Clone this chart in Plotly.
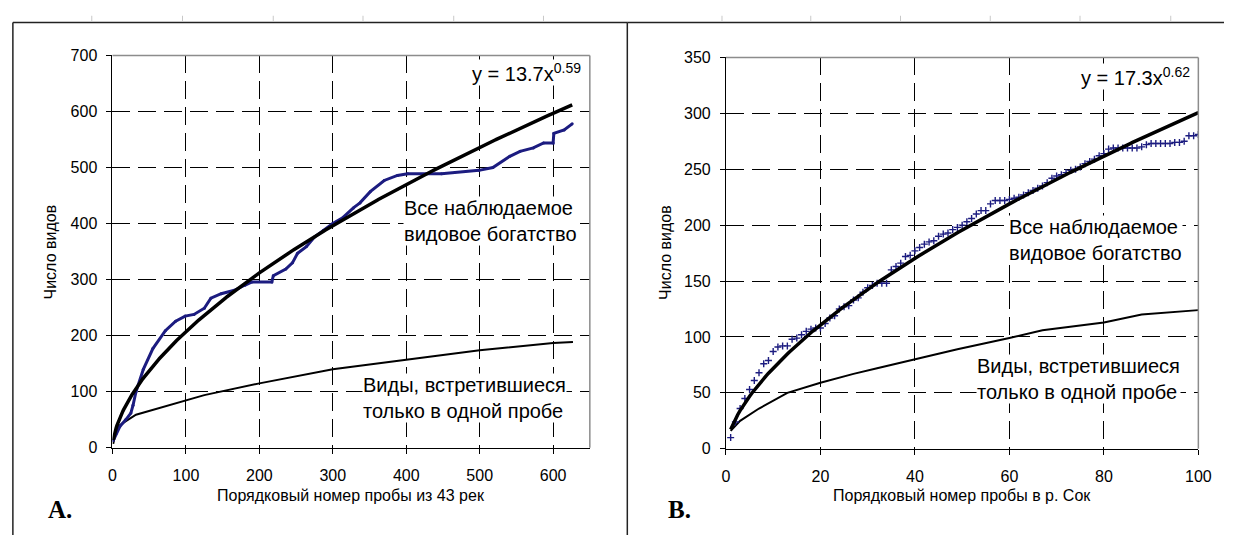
import numpy as np
import plotly.graph_objects as go

# ---------------- Panel A: 43 rivers ----------------
a_obs_x = [1, 5, 10, 18, 25, 28, 32, 42, 55, 72, 86, 99, 111, 125, 134, 148, 166, 180, 190,
           217, 219, 236, 245, 252, 264, 275, 287, 300, 314, 328, 337, 351, 370, 388, 402,
           448, 499, 518, 541, 555, 573, 587, 600, 601, 615, 626]
a_obs_y = [13, 25, 38, 50, 62, 76, 100, 140, 177, 209, 226, 235, 238, 249, 267, 275, 281, 290, 296,
           296, 307, 319, 330, 347, 359, 376, 388, 400, 411, 428, 437, 457, 477, 486, 489,
           489, 495, 500, 520, 529, 535, 544, 544, 561, 567, 578]

a_single_x = [1, 5, 9, 14, 32, 55, 79, 100, 125, 200, 300, 400, 500, 600, 627]
a_single_y = [7, 30, 39, 44, 59, 68, 77, 85, 94, 115, 140, 157, 174, 187, 189]

a_fit_coef, a_fit_pow = 13.7, 0.59
a_fit_end = 626

# ---------------- Panel B: river Sok ----------------
b_obs_x = list(range(1, 101))
b_obs_y = [10, 24, 36, 45, 53, 61, 68, 76, 79, 87,
           91, 92, 92, 98, 99, 102, 105, 107, 108, 108,
           112, 117, 119, 125, 127, 128, 133, 135, 140, 144,
           146, 148, 148, 148, 160, 163, 166, 172, 173, 177,
           180, 183, 185, 186, 190, 192, 193, 196, 198, 200,
           203, 206, 210, 213, 213, 219, 222, 222, 222, 223,
           224, 225, 227, 229, 231, 233, 235, 238, 242, 244,
           245, 247, 249, 250, 252, 255, 257, 259, 262, 264,
           268, 269, 269, 269, 269, 269, 269, 270, 272, 273,
           273, 273, 273, 273, 274, 274, 275, 280, 280, 281]

b_single_x = [1, 3, 7, 13, 20, 27, 32, 40, 49, 60, 67, 80, 88, 100]
b_single_y = [16, 25, 36, 50, 59, 67, 72, 80, 89, 99, 106, 113, 120, 124]

b_fit_coef, b_fit_pow = 17.3, 0.62
b_fit_end = 100

# axis ticks
a_xticks = [0, 100, 200, 300, 400, 500, 600]
a_yticks = [0, 100, 200, 300, 400, 500, 600, 700]
b_xticks = [0, 20, 40, 60, 80, 100]
b_yticks = [0, 50, 100, 150, 200, 250, 300, 350]

# power-law trend lines from the stated equations
a_fit_x = np.arange(1, a_fit_end + 1)
a_fit_y = a_fit_coef * a_fit_x ** a_fit_pow
b_fit_x = np.linspace(1, b_fit_end, 200)
b_fit_y = b_fit_coef * b_fit_x ** b_fit_pow

W, H = 1237, 544
NAVY = "#1c1c80"
FONT = "Liberation Sans, Arial, sans-serif"

fig = go.Figure()

# panel A traces
fig.add_trace(go.Scatter(x=a_single_x, y=a_single_y, mode="lines",
                         line=dict(color="black", width=2), xaxis="x", yaxis="y"))
fig.add_trace(go.Scatter(x=a_obs_x, y=a_obs_y, mode="lines+markers",
                         line=dict(color=NAVY, width=3),
                         marker=dict(color=NAVY, size=3), xaxis="x", yaxis="y"))
fig.add_trace(go.Scatter(x=a_fit_x, y=a_fit_y, mode="lines",
                         line=dict(color="black", width=3.5), xaxis="x", yaxis="y"))

# panel B traces
fig.add_trace(go.Scatter(x=b_single_x, y=b_single_y, mode="lines",
                         line=dict(color="black", width=2), xaxis="x2", yaxis="y2"))
fig.add_trace(go.Scatter(x=b_obs_x, y=b_obs_y, mode="markers",
                         marker=dict(symbol="cross-thin", size=5, color=NAVY,
                                     line=dict(color=NAVY, width=1.4)),
                         xaxis="x2", yaxis="y2"))
fig.add_trace(go.Scatter(x=b_fit_x, y=b_fit_y, mode="lines",
                         line=dict(color="black", width=3.5), xaxis="x2", yaxis="y2"))

ax_common = dict(showline=True, linecolor="black", linewidth=1,
                 ticks="outside", ticklen=5, tickcolor="black",
                 showgrid=True, gridcolor="black", gridwidth=1, griddash="18px,8px",
                 zeroline=False, tickfont=dict(family=FONT, size=16, color="black"))

xa_dom = [110 / W, 594 / W]
xb_dom = [732 / W, 1211 / W]
ya_dom = [1 - 454 / H, 1 - 49 / H]
yb_dom = [1 - 455 / H, 1 - 51 / H]

fig.update_layout(
    width=W, height=H, margin=dict(l=0, r=0, t=0, b=0),
    paper_bgcolor="white", plot_bgcolor="white", showlegend=False,
    xaxis=dict(domain=xa_dom, range=[0, 650], tickvals=a_xticks, anchor="y",
               ticklabelstandoff=8, **ax_common),
    yaxis=dict(domain=ya_dom, range=[0, 700], tickvals=a_yticks, anchor="x",
               ticklabelstandoff=6, **ax_common),
    xaxis2=dict(domain=xb_dom, range=[0, 100], tickvals=b_xticks, anchor="y2",
                ticklabelstandoff=8, **ax_common),
    yaxis2=dict(domain=yb_dom, range=[0, 350], tickvals=b_yticks, anchor="x2",
                ticklabelstandoff=6, **ax_common),
)

shapes = []
# grey top/right plot-area borders
for xd, yd in [(xa_dom, ya_dom), (xb_dom, yb_dom)]:
    shapes.append(dict(type="line", xref="paper", yref="paper",
                       x0=xd[0], x1=xd[1], y0=yd[1], y1=yd[1],
                       line=dict(color="#8c8c8c", width=1.5), layer="above"))
    shapes.append(dict(type="line", xref="paper", yref="paper",
                       x0=xd[1], x1=xd[1], y0=yd[0], y1=yd[1],
                       line=dict(color="#8c8c8c", width=1.5), layer="above"))


# outer figure frames
def px_line(x0, y0, x1, y1, color="#222222", width=1.5):
    return dict(type="line", xref="paper", yref="paper",
                x0=x0 / W, x1=x1 / W, y0=1 - y0 / H, y1=1 - y1 / H,
                line=dict(color=color, width=width), layer="above")


shapes.append(px_line(9, 15, 632, 15))
shapes.append(px_line(632, 15, W, 15))
shapes.append(px_line(9, 15, 9, H))
shapes.append(px_line(632, 15, 632, H))
# sheet ruler marks along the top
for rx in [89, 181, 273, 364, 456, 547, 728, 818, 909, 1000, 1091, 1183]:
    shapes.append(px_line(rx, 8, rx, 14, color="#c8c8c8", width=1))

fig.update_layout(shapes=shapes)

ann_font = dict(family=FONT, size=20, color="black")
title_font = dict(family=FONT, size=16, color="black")
letter_font = dict(family="Liberation Serif, Times New Roman, serif", size=25, color="black")
annotations = [
    # panel A labels
    dict(x=640, y=670, xref="x", yref="y", text="y = 13.7x<sup>0.59</sup>",
         xanchor="right", yanchor="middle", showarrow=False, font=ann_font,
         bgcolor="white", borderpad=0),
    dict(x=395, y=404, xref="x", yref="y", text="Все наблюдаемое<br>видовое богатство",
         xanchor="left", yanchor="middle", align="left", showarrow=False, font=ann_font,
         bgcolor="white", borderpad=0),
    dict(x=340, y=88, xref="x", yref="y", text="Виды, встретившиеся<br>только в одной пробе",
         xanchor="left", yanchor="middle", align="left", showarrow=False, font=ann_font,
         bgcolor="white", borderpad=0),
    # panel B labels
    dict(x=98.4, y=333, xref="x2", yref="y2", text="y = 17.3x<sup>0.62</sup>",
         xanchor="right", yanchor="middle", showarrow=False, font=ann_font,
         bgcolor="white", borderpad=0),
    dict(x=59.7, y=187, xref="x2", yref="y2", text="Все наблюдаемое<br>видовое богатство",
         xanchor="left", yanchor="middle", align="left", showarrow=False, font=ann_font,
         bgcolor="white", borderpad=0),
    dict(x=53, y=62, xref="x2", yref="y2", text="Виды, встретившиеся<br>только в одной пробе",
         xanchor="left", yanchor="middle", align="left", showarrow=False, font=ann_font,
         bgcolor="white", borderpad=0),
    # axis titles
    dict(x=352 / W, y=1 - 503 / H, xref="paper", yref="paper",
         text="Порядковый номер пробы из 43 рек", showarrow=False, font=title_font,
         xanchor="center", yanchor="middle"),
    dict(x=971 / W, y=1 - 503 / H, xref="paper", yref="paper",
         text="Порядковый номер пробы в р. Сок", showarrow=False, font=title_font,
         xanchor="center", yanchor="middle"),
    dict(x=47 / W, y=1 - 252 / H, xref="paper", yref="paper", text="Число видов",
         textangle=-90, showarrow=False, font=title_font, xanchor="center", yanchor="middle"),
    dict(x=670 / W, y=1 - 252 / H, xref="paper", yref="paper", text="Число видов",
         textangle=-90, showarrow=False, font=title_font, xanchor="center", yanchor="middle"),
    # panel letters
    dict(x=57 / W, y=1 - 518 / H, xref="paper", yref="paper", text="<b>A.</b>",
         showarrow=False, font=letter_font, xanchor="center", yanchor="middle"),
    dict(x=685 / W, y=1 - 518 / H, xref="paper", yref="paper", text="<b>B.</b>",
         showarrow=False, font=letter_font, xanchor="center", yanchor="middle"),
]
fig.update_layout(annotations=annotations)

fig.write_html("out.html")
